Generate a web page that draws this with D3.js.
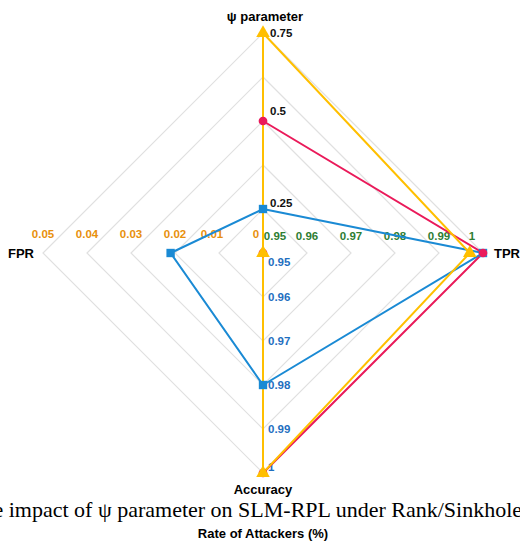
<!DOCTYPE html>
<html>
<head>
<meta charset="utf-8">
<script src="https://cdn.jsdelivr.net/npm/d3@7"></script>
<style>
  body { margin: 0; background: #fff; }
  text { font-family: "Liberation Sans", Arial, sans-serif; }
</style>
</head>
<body>
<div id="chart"></div>
<script>
// axes of the radar, clockwise from the top
var axes = ["ψ parameter", "TPR", "Accuracy", "FPR"];
var psiTicks = [0.25, 0.5, 0.75];
var tprTicks = [0.95, 0.96, 0.97, 0.98, 0.99, 1];
var accTicks = [0.95, 0.96, 0.97, 0.98, 0.99, 1];
var fprTicks = [0, 0.01, 0.02, 0.03, 0.04, 0.05];

// series values in axis order: psi, TPR, Accuracy, FPR
var seriesNames = ["blue", "red", "yellow"];
var blueValues = [0.25, 1, 0.98, 0.021];
var redValues = [0.5, 1, 1, 0];
var yellowValues = [0.75, 0.997, 1, 0];

var svgWidth = 520, svgHeight = 543;
var cx = 263, cy = 253, radius = 220, rings = 5;

var svg = d3.select("#chart").append("svg")
    .attr("width", svgWidth)
    .attr("height", svgHeight);

var scales = [
    d3.scaleLinear().domain([0.125, 0.75]).range([0, radius]),
    d3.scaleLinear().domain([0.95, 1]).range([0, radius]),
    d3.scaleLinear().domain([0.95, 1]).range([0, radius]),
    d3.scaleLinear().domain([0, 0.05]).range([0, radius])
];
var angle = function(i) { return -Math.PI / 2 + i * Math.PI / 2; };
var pos = function(i, v) {
    var r = scales[i](v);
    return [cx + r * Math.cos(angle(i)), cy + r * Math.sin(angle(i))];
};

// grid diamonds
var g = svg.append("g");
d3.range(1, rings + 1).forEach(function(k) {
    var r = radius * k / rings;
    var pts = axes.map(function(a, i) {
        return [cx + r * Math.cos(angle(i)), cy + r * Math.sin(angle(i))];
    });
    g.append("polygon")
        .attr("points", pts.join(" "))
        .attr("fill", "none")
        .attr("stroke", "#e0e0e0")
        .attr("stroke-width", 1.2);
});

// tick labels
var psiShift = [-2, -6, 4];
svg.selectAll(".psi").data(psiTicks).enter().append("text")
    .attr("x", cx + 7)
    .attr("y", function(d, i) { return pos(0, d)[1] + psiShift[i]; })
    .attr("font-size", 11.5).attr("font-weight", "bold").attr("fill", "#111")
    .text(function(d) { return d; });

svg.selectAll(".tpr").data(tprTicks).enter().append("text")
    .attr("x", function(d, i) {
        var x = pos(1, d)[0];
        if (i == 0) return x + 12;
        if (i == tprTicks.length - 1) return x - 11;
        return x;
    })
    .attr("y", cy - 13)
    .attr("text-anchor", "middle")
    .attr("font-size", 11.5).attr("font-weight", "bold").attr("fill", "#2e7d32")
    .text(function(d) { return d; });

svg.selectAll(".acc").data(accTicks).enter().append("text")
    .attr("x", cx + 5)
    .attr("y", function(d, i) {
        var y = pos(2, d)[1];
        if (i == 0) return y + 13;
        if (i == accTicks.length - 1) return y - 2;
        return y + 4;
    })
    .attr("font-size", 11.5).attr("font-weight", "bold").attr("fill", "#1f6fbf")
    .text(function(d) { return d; });

svg.selectAll(".fpr").data(fprTicks).enter().append("text")
    .attr("x", function(d, i) {
        var x = pos(3, d)[0];
        if (i == 0) return x - 7;
        if (i == 1) return x - 7;
        return x;
    })
    .attr("y", cy - 15)
    .attr("text-anchor", "middle")
    .attr("font-size", 11.5).attr("font-weight", "bold").attr("fill", "#e8900c")
    .text(function(d) { return d; });

// series
var colors = { blue: "#1a8ad4", red: "#ea1a5a", yellow: "#ffbf00" };
var values = { blue: blueValues, red: redValues, yellow: yellowValues };

seriesNames.forEach(function(name) {
    var pts = values[name].map(function(v, i) { return pos(i, v); });
    svg.append("path")
        .attr("d", d3.line()(pts) + "Z")
        .attr("fill", "none")
        .attr("stroke", colors[name])
        .attr("stroke-width", 2);
});

var symbols = { blue: d3.symbolSquare, red: d3.symbolCircle, yellow: d3.symbolTriangle };
var sizes = { blue: 70, red: 60, yellow: 80 };
seriesNames.forEach(function(name) {
    svg.selectAll(".m-" + name)
        .data(values[name])
        .enter()
        .append("path")
        .attr("d", d3.symbol().type(symbols[name]).size(sizes[name]))
        .attr("transform", function(d, i) {
            var p = pos(i, d);
            return "translate(" + p + ")";
        })
        .attr("fill", colors[name]);
});

// axis titles
svg.append("text").attr("x", cx + 2).attr("y", 21)
    .attr("text-anchor", "middle").attr("font-size", 13).attr("font-weight", "bold")
    .text(axes[0]);
svg.append("text").attr("x", 494).attr("y", cy + 5)
    .attr("font-size", 13).attr("font-weight", "bold")
    .text(axes[1]);
svg.append("text").attr("x", cx).attr("y", 494)
    .attr("text-anchor", "middle").attr("font-size", 13).attr("font-weight", "bold")
    .text(axes[2]);
svg.append("text").attr("x", 8).attr("y", cy + 5)
    .attr("font-size", 13).attr("font-weight", "bold")
    .text(axes[3]);

// caption and x title
svg.append("text").attr("x", -31).attr("y", 517)
    .style("font-family", "'Liberation Serif', 'Times New Roman', serif")
    .attr("font-size", 22)
    .text("The impact of ψ parameter on SLM-RPL under Rank/Sinkhole attacks");
svg.append("text").attr("x", cx).attr("y", 538)
    .attr("text-anchor", "middle").attr("font-size", 13).attr("font-weight", "bold")
    .text("Rate of Attackers (%)");
</script>
</body>
</html>
